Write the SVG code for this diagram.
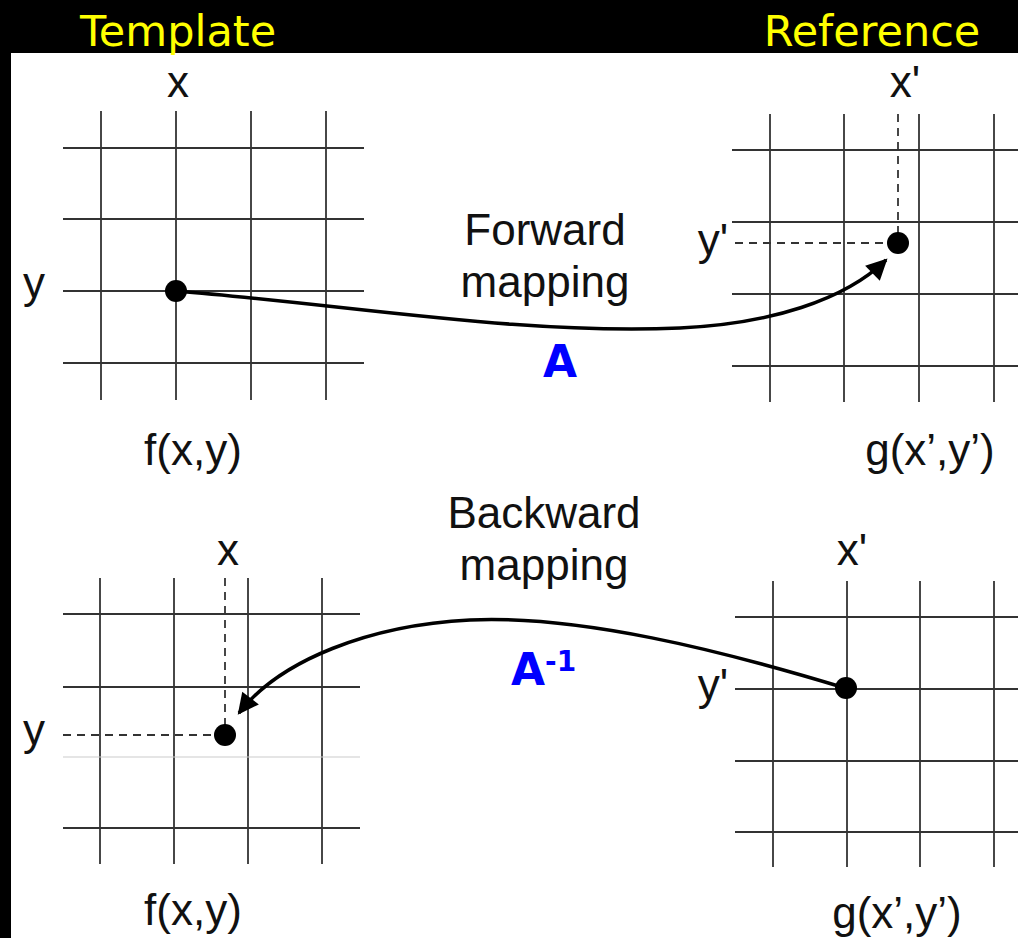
<svg xmlns="http://www.w3.org/2000/svg" width="1018" height="938" viewBox="0 0 1018 938">
<style>
.grid line{stroke:#333;stroke-width:1.8}
.grid line.light{stroke:#ccc;stroke-width:1.2}
.dash{stroke:#333;stroke-width:1.8;stroke-dasharray:8,6;fill:none}
.lbl{font-family:"Liberation Sans",Arial,sans-serif;font-size:44px;fill:#111;text-anchor:middle}
.title{font-family:"DejaVu Sans",Verdana,sans-serif;font-size:43px;fill:#ffff00;text-anchor:middle}
.blue{font-family:"DejaVu Sans",Verdana,sans-serif;font-weight:bold;font-size:44px;fill:#0000ff}
.conn{fill:none;stroke:#000;stroke-width:3.5}
</style>
<defs>
<marker id="ah" viewBox="0 0 10 10" refX="9" refY="5" markerWidth="7" markerHeight="6" orient="auto" markerUnits="strokeWidth">
<path d="M0,0 L10,5 L0,10 z" fill="#000"/>
</marker>
</defs>
<rect x="0" y="0" width="1018" height="938" fill="#000"/>
<rect x="11" y="53" width="1007" height="885" fill="#fff"/>
<g id="titles">
<text class="title" x="178" y="46">Template</text>
<text class="title" x="872" y="46">Reference</text>
</g>
<g id="grid-forward-template" class="grid">
<line x1="101" y1="111" x2="101" y2="400"/><line x1="176" y1="111" x2="176" y2="400"/><line x1="251" y1="111" x2="251" y2="400"/><line x1="326" y1="111" x2="326" y2="400"/>
<line x1="63" y1="148" x2="364" y2="148"/><line x1="63" y1="219" x2="364" y2="219"/><line x1="63" y1="291" x2="364" y2="291"/><line x1="63" y1="363" x2="364" y2="363"/>
<circle cx="176" cy="291" r="11" fill="#000"/>
<text class="lbl" x="178" y="97">x</text>
<text class="lbl" x="34" y="298">y</text>
<text class="lbl" x="193" y="465">f(x,y)</text>
</g>
<g id="grid-forward-reference" class="grid">
<line x1="770" y1="114" x2="770" y2="402"/><line x1="844" y1="114" x2="844" y2="402"/><line x1="919" y1="114" x2="919" y2="402"/><line x1="994" y1="114" x2="994" y2="402"/>
<line x1="732" y1="150" x2="1018" y2="150"/><line x1="732" y1="222" x2="1018" y2="222"/><line x1="732" y1="294" x2="1018" y2="294"/><line x1="732" y1="366" x2="1018" y2="366"/>
<path class="dash" d="M898,114 V243 M735,243 H898"/>
<circle cx="898" cy="243" r="11" fill="#000"/>
<text class="lbl" x="905" y="97">x'</text>
<text class="lbl" x="713" y="255">y'</text>
<text class="lbl" x="930" y="465">g(x’,y’)</text>
</g>
<g id="grid-backward-template" class="grid">
<line x1="100" y1="578" x2="100" y2="864"/><line x1="174" y1="578" x2="174" y2="864"/><line x1="248" y1="578" x2="248" y2="864"/><line x1="322" y1="578" x2="322" y2="864"/>
<line x1="63" y1="614" x2="360" y2="614"/><line x1="63" y1="687" x2="360" y2="687"/><line class="light" x1="63" y1="757" x2="360" y2="757"/><line x1="63" y1="828" x2="360" y2="828"/>
<path class="dash" d="M225,578 V735 M63,735 H225"/>
<circle cx="225" cy="735" r="11" fill="#000"/>
<text class="lbl" x="228" y="565">x</text>
<text class="lbl" x="34" y="745">y</text>
<text class="lbl" x="193" y="925">f(x,y)</text>
</g>
<g id="grid-backward-reference" class="grid">
<line x1="773" y1="581" x2="773" y2="867"/><line x1="847" y1="581" x2="847" y2="867"/><line x1="920" y1="581" x2="920" y2="867"/><line x1="994" y1="581" x2="994" y2="867"/>
<line x1="735" y1="617" x2="1018" y2="617"/><line x1="735" y1="689" x2="1018" y2="689"/><line x1="735" y1="761" x2="1018" y2="761"/><line x1="735" y1="832" x2="1018" y2="832"/>
<circle cx="846" cy="688" r="11" fill="#000"/>
<text class="lbl" x="852" y="565">x'</text>
<text class="lbl" x="713" y="700">y'</text>
<text class="lbl" x="897" y="928">g(x’,y’)</text>
</g>
<g id="connectors">
<path class="conn" d="M176,291 C350,305 520,335 680,328 C770,324 845,300 886,260" marker-end="url(#ah)"/>
<path class="conn" d="M845,688 C720,650 580,615 470,620 C370,625 280,660 239,713" marker-end="url(#ah)"/>
</g>
<g id="labels">
<text class="lbl" x="545" y="245">Forward</text>
<text class="lbl" x="545" y="297">mapping</text>
<text class="lbl" x="544" y="528">Backward</text>
<text class="lbl" x="544" y="580">mapping</text>
<text class="blue" x="543" y="377">A</text>
<text class="blue" x="511" y="685">A<tspan font-size="28" dy="-14">-1</tspan></text>
</g>
</svg>
